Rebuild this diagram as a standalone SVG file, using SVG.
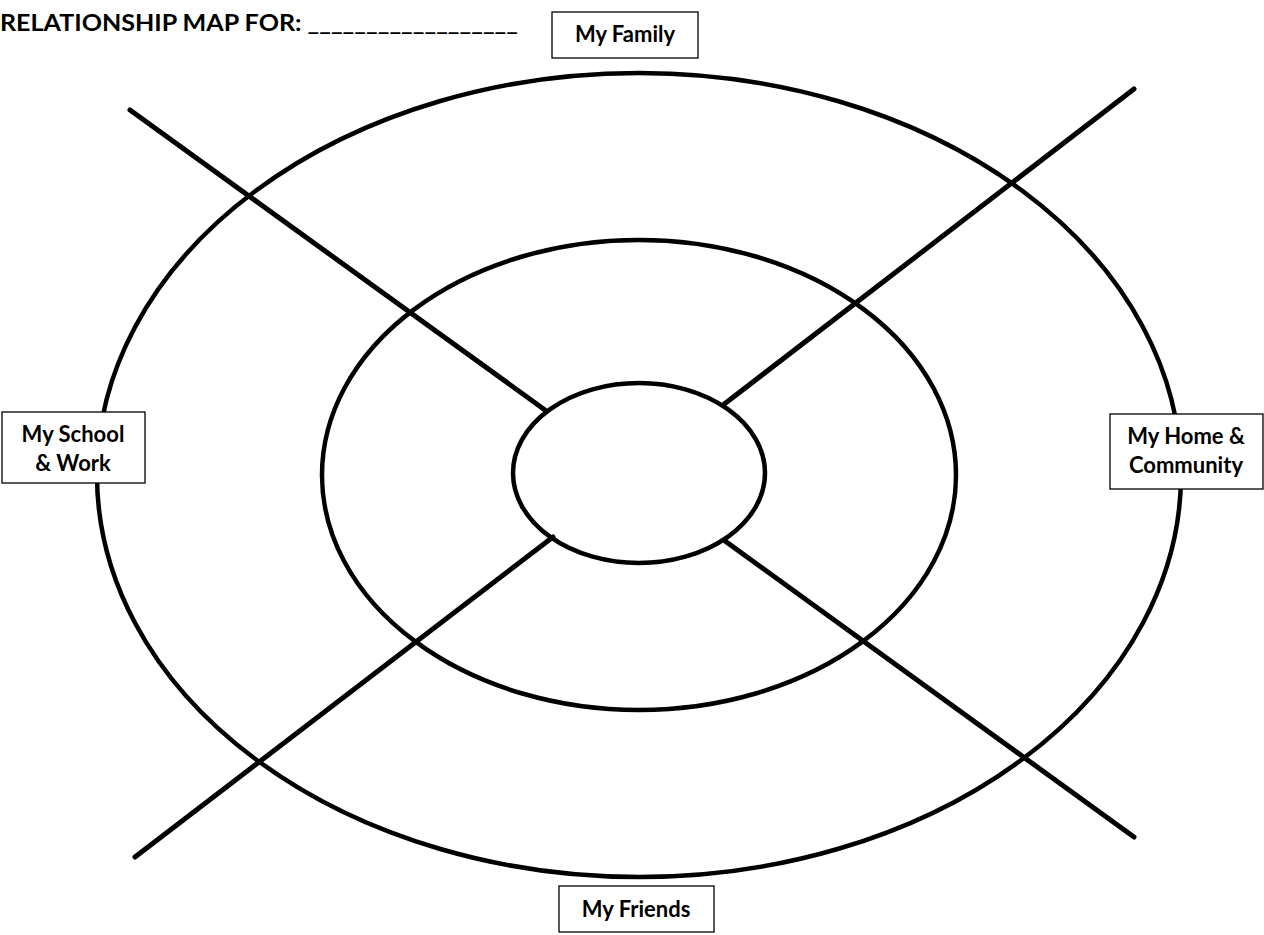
<svg xmlns="http://www.w3.org/2000/svg" width="1264" height="935" viewBox="0 0 1264 935">
<style>
.ring{fill:none;stroke:#000;stroke-width:4.5}
.spoke{stroke:#000;stroke-width:5;stroke-linecap:round}
.box{fill:#fff;stroke:#000;stroke-width:1.3}
.lbl{font-family:Lato,"Liberation Sans",sans-serif;font-weight:bold;font-size:22px;fill:#000;text-anchor:middle}
.title{font-family:Lato,"Liberation Sans",sans-serif;font-weight:bold;font-size:22px;fill:#000}
</style>
<rect width="1264" height="935" fill="#fff"/>
<text class="title" x="0" y="31" textLength="518" lengthAdjust="spacingAndGlyphs">RELATIONSHIP MAP FOR: __________________</text>
<g id="rings">
<ellipse class="ring" cx="639" cy="475" rx="542" ry="402"/>
<ellipse class="ring" cx="639" cy="475" rx="317" ry="235"/>
<ellipse class="ring" cx="639" cy="473" rx="126" ry="90"/>
</g>
<g id="connectors">
<line class="spoke" x1="130" y1="110" x2="545" y2="410"/>
<line class="spoke" x1="1134" y1="89" x2="723" y2="405"/>
<line class="spoke" x1="135" y1="857" x2="553" y2="537"/>
<line class="spoke" x1="1134" y1="837" x2="725" y2="541"/>
</g>
<g id="family">
<rect class="box" x="552" y="12" width="146" height="46"/>
<text class="lbl" x="625" y="42">My Family</text>
</g>
<g id="school">
<rect class="box" x="2" y="412" width="143" height="71"/>
<text class="lbl" x="73" y="442">My School</text>
<text class="lbl" x="73" y="471">&amp; Work</text>
</g>
<g id="home">
<rect class="box" x="1110" y="414" width="153" height="75"/>
<text class="lbl" x="1186" y="444">My Home &amp;</text>
<text class="lbl" x="1186" y="473">Community</text>
</g>
<g id="friends">
<rect class="box" x="559" y="886" width="155" height="46"/>
<text class="lbl" x="636" y="917">My Friends</text>
</g>
</svg>
